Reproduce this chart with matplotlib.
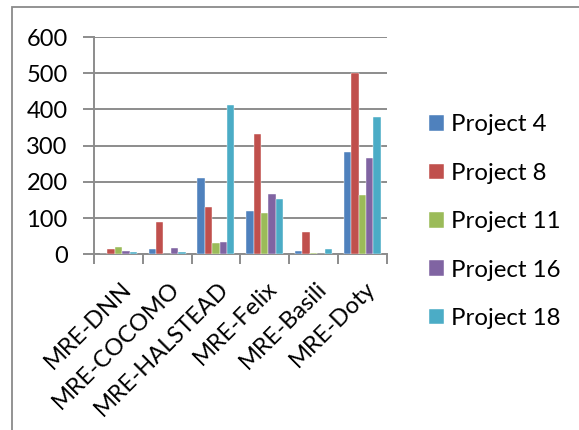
import numpy as np
import matplotlib
matplotlib.use('Agg')
from matplotlib import pyplot as plt
from matplotlib.patches import Rectangle

categories = ['MRE-DNN', 'MRE-COCOMO', 'MRE-HALSTEAD', 'MRE-Felix', 'MRE-Basili', 'MRE-Doty']
series = ['Project 4', 'Project 8', 'Project 11', 'Project 16', 'Project 18']
p4 = [0, 14, 210, 119, 10, 282]
p8 = [16, 90, 130, 332, 62, 501]
p11 = [19, 2, 32, 114, 3, 163]
p16 = [10, 17, 35, 166, 0, 266]
p18 = [6, 5, 412, 152, 15, 378]
yticks = [0, 100, 200, 300, 400, 500, 600]

colors = ['#4F81BD', '#C0504D', '#9BBB59', '#8064A2', '#4BACC6']
grid_col = '#8c8c8c'

plt.rcParams['font.family'] = ['Lato', 'DejaVu Sans']

fig = plt.figure(figsize=(5.79, 4.30), dpi=100)
# outer chart frame (cropped on right/bottom)
fig.add_artist(Rectangle((12 / 579, -0.1), 1.0, (1 - 7 / 430) + 0.1,
                         transform=fig.transFigure, fill=False,
                         edgecolor='#8a8a8a', linewidth=1.3))

ax = fig.add_axes([94 / 579, 1 - 254.3 / 430, (386.7 - 94) / 579, (254.3 - 37) / 430])

x = np.arange(len(categories))
bw = 0.152
for i, (name, vals) in enumerate(zip(series, [p4, p8, p11, p16, p18])):
    ax.bar(x + (i - 2) * bw, vals, width=bw, color=colors[i], label=name,
           edgecolor='white', linewidth=0.3, zorder=3)

ax.set_xlim(-0.5, len(categories) - 0.5)
ax.set_ylim(0, 600)
ax.set_yticks(yticks)
ax.set_yticklabels([str(v) for v in yticks], fontsize=17)
ax.yaxis.grid(True, color=grid_col, linewidth=1.4, zorder=0)
ax.tick_params(axis='y', length=8, width=1.4, color=grid_col, pad=11)

# category boundary ticks
ax.set_xticks(np.arange(len(categories) + 1) - 0.5, minor=False)
ax.set_xticklabels([''] * (len(categories) + 1))
ax.tick_params(axis='x', length=7, width=1.4, color=grid_col)
ax.set_xticks(x + 0.04, minor=True)
ax.set_xticklabels(categories, minor=True, rotation=45, ha='right',
                   rotation_mode='anchor', fontsize=17)
ax.tick_params(axis='x', which='minor', length=0, pad=17)

for s in ['top', 'right']:
    ax.spines[s].set_visible(False)
for s in ['left', 'bottom']:
    ax.spines[s].set_color(grid_col)
    ax.spines[s].set_linewidth(1.4)

leg = ax.legend(loc='center left', bbox_to_anchor=(1.071, 0.15), frameon=False,
                fontsize=17.3, handlelength=0.62, handleheight=0.62,
                handletextpad=0.3, labelspacing=1.14)

plt.savefig('out.png', dpi=100)
